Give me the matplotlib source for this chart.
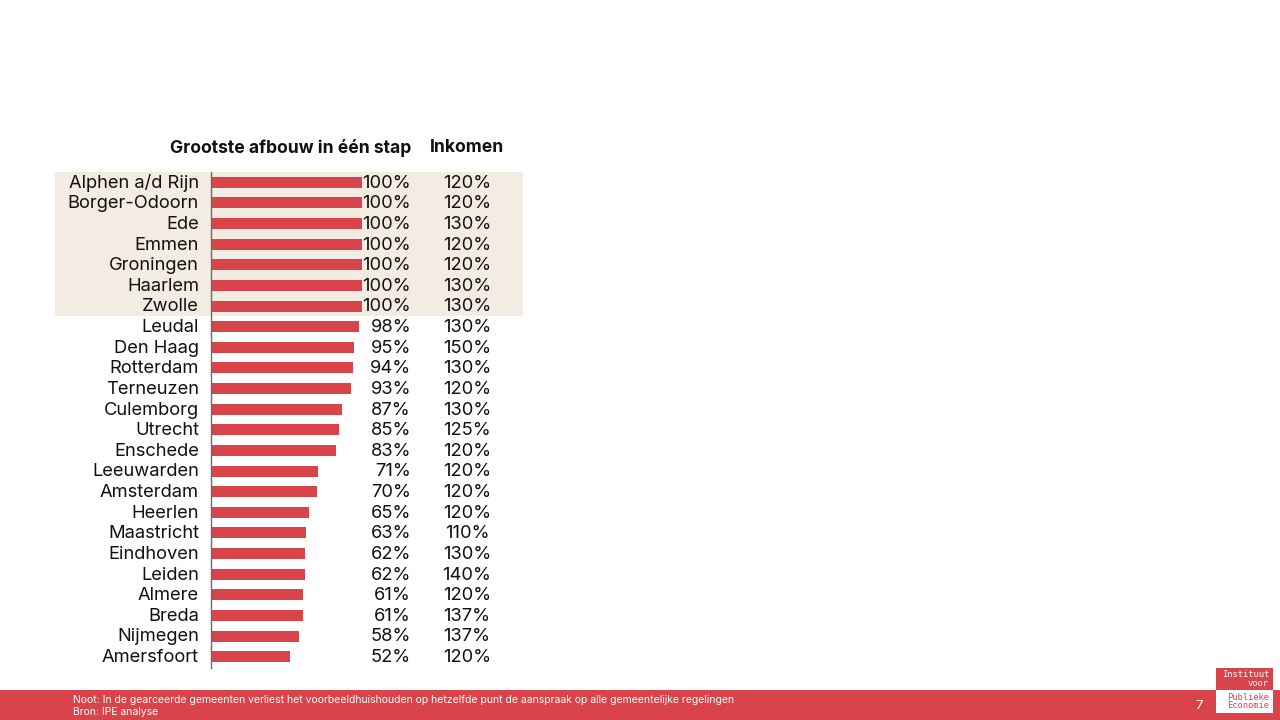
import matplotlib.pyplot as plt
from matplotlib.patches import Rectangle

# Data
gemeenten = ["Alphen a/d Rijn", "Borger-Odoorn", "Ede", "Emmen", "Groningen",
             "Haarlem", "Zwolle", "Leudal", "Den Haag", "Rotterdam", "Terneuzen",
             "Culemborg", "Utrecht", "Enschede", "Leeuwarden", "Amsterdam",
             "Heerlen", "Maastricht", "Eindhoven", "Leiden", "Almere", "Breda",
             "Nijmegen", "Amersfoort"]
afbouw = [100, 100, 100, 100, 100, 100, 100, 98, 95, 94, 93, 87, 85, 83,
          71, 70, 65, 63, 62, 62, 61, 61, 58, 52]
inkomen = [120, 120, 130, 120, 120, 130, 130, 130, 150, 130, 120, 130, 125,
           120, 120, 120, 120, 110, 130, 140, 120, 137, 137, 120]
n_highlight = 7

red = "#d9434a"
beige = "#f3ece2"
plt.rcParams["font.family"] = ["Inter", "DejaVu Sans"]

W, H = 1280, 720
fig = plt.figure(figsize=(12.8, 7.2), dpi=100)

# axes placed in pixel terms: x=0 at px 211, x=100 at px 362; rows from px 172 to 667
left, right = 211, 362
top, bottom = 172, 667
ax = fig.add_axes([left / W, 1 - bottom / H, (right - left) / W, (bottom - top) / H])
n = len(gemeenten)
ax.set_xlim(0, 100)
ax.set_ylim(n - 0.5, -0.5)
ax.axis("off")

px = 100 / (right - left)           # data units per pixel, x
py = n / (bottom - top)             # data units per pixel, y

# highlighted rows
ax.add_patch(Rectangle(((55 - left) * px, -0.5), (523 - 55) * px, n_highlight,
                       facecolor=beige, edgecolor="none", zorder=0, clip_on=False))

ax.barh(range(n), afbouw, height=0.53, color=red, zorder=2)
ax.plot([0, 0], [-0.5, n - 0.5 + 0.05], color="#6b6b6b", lw=1.0, zorder=3, clip_on=False)

x_name = (199 - left) * px
x_pct = (411 - left) * px
x_ink = (467 - left) * px
dy = 0.04
for i, (g, a, k) in enumerate(zip(gemeenten, afbouw, inkomen)):
    ax.text(x_name, i + dy, g, ha="right", va="center", fontsize=13.2, color="#111111",
            clip_on=False)
    ax.text(x_pct, i + dy, f"{a}%", ha="right", va="center", fontsize=13.2, color="#111111",
            clip_on=False)
    ax.text(x_ink, i + dy, f"{k}%", ha="center", va="center", fontsize=13.2, color="#111111",
            clip_on=False)

y_head = -0.5 - (172 - 148) * py
ax.text(x_pct, y_head, "Grootste afbouw in één stap", ha="right", va="center",
        fontsize=12.6, fontweight="bold", color="#111111", clip_on=False)
ax.text(x_ink, y_head, "Inkomen", ha="center", va="center",
        fontsize=12.6, fontweight="bold", color="#111111", clip_on=False)

# footer band
fig.patches.append(Rectangle((0, 0), 1, 30 / H, transform=fig.transFigure,
                             facecolor=red, edgecolor="none", zorder=0))
fig.text(73 / W, 20 / H, "Noot: In de gearceerde gemeenten verliest het voorbeeldhuishouden op hetzelfde punt de aanspraak op alle gemeentelijke regelingen",
         ha="left", va="center", fontsize=7.5, color="white")
fig.text(73 / W, 8 / H, "Bron: IPE analyse", ha="left", va="center", fontsize=7.5, color="white")
fig.text(1199 / W, 14 / H, "7", ha="center", va="center", fontsize=9.5, color="white")

# logo
fig.patches.append(Rectangle((1216 / W, 1 - 690 / H), 57 / W, 22 / H, transform=fig.transFigure,
                             facecolor=red, edgecolor="none", zorder=1))
fig.patches.append(Rectangle((1216 / W, 1 - 713 / H), 57 / W, 23 / H, transform=fig.transFigure,
                             facecolor="white", edgecolor="none", zorder=1))
fig.text(1269 / W, 1 - 679 / H, "Instituut\nvoor", ha="right", va="center", fontsize=6.3,
         family="DejaVu Sans Mono", color="white", linespacing=1.0, zorder=2)
fig.text(1269 / W, 1 - 701.5 / H, "Publieke\nEconomie", ha="right", va="center", fontsize=6.3,
         family="DejaVu Sans Mono", color=red, linespacing=1.0, zorder=2)

fig.savefig("out.png", dpi=100)
